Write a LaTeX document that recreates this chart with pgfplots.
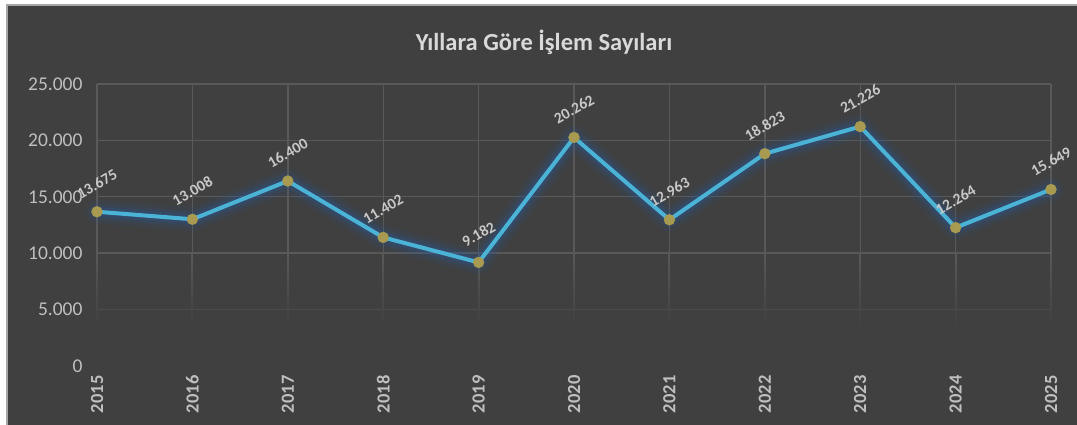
\documentclass[border=0pt]{standalone}
\usepackage{pgfplots}
\pgfplotsset{compat=1.18}
\usepackage{pgfplotstable}
\usepackage{fontspec}
\setmainfont{Carlito}
\definecolor{bgc}{HTML}{404040}
\definecolor{gridc}{HTML}{595959}
\definecolor{linec}{HTML}{4BB4D6}
\definecolor{markc}{HTML}{A89A50}
\definecolor{glowc}{HTML}{1F5AA8}
\definecolor{tickc}{HTML}{BFBFBF}
\definecolor{labc}{HTML}{C8C8C8}
\definecolor{titc}{HTML}{D9D9D9}
\definecolor{bordc}{HTML}{A6A6A6}

\pgfplotstableread{
x y
0 13675
1 13008
2 16400
3 11402
4 9182
5 20262
6 12963
7 18823
8 21226
9 12264
10 15649
}\datatab

\begin{document}
\begin{tikzpicture}
\useasboundingbox (0,0) rectangle (1077pt,425pt);
\fill[white] (0,0) rectangle (1077pt,425pt);
\fill[bgc] (7pt,0) rectangle (1077pt,420pt);
\draw[bordc, line width=1.2pt] (7pt,0) -- (7pt,420pt) -- (1077pt,420pt);
\node[font=\fontsize{24.5}{27}\selectfont\bfseries, text=titc] at (544pt,383pt) {Yıllara Göre İşlem Sayıları};
\begin{axis}[
  at={(97pt,59pt)}, anchor=south west,
  scale only axis, width=954pt, height=282pt,
  xmin=0, xmax=10, ymin=0, ymax=25000,
  axis line style={draw=none},
  major tick length=0pt,
  xtick={0,...,10},
  xticklabels={2015,2016,2017,2018,2019,2020,2021,2022,2023,2024,2025},
  ytick={0,5000,10000,15000,20000,25000},
  scaled y ticks=false,
  /pgf/number format/assume math mode=true,
  /pgf/number format/1000 sep={.},
  yticklabel style={text=tickc, font=\fontsize{19.5}{21}\selectfont, anchor=east, xshift=-11pt},
  xticklabel style={text=tickc, font=\fontsize{18.5}{20}\selectfont\bfseries, rotate=90, anchor=east, xshift=-6pt},
  clip=false,
]
% grid lines (fading towards the bottom as in the reference)
\pgfplotsinvokeforeach{10000,15000,20000,25000}{
  \draw[gridc, line width=1.4pt] (axis cs:0,#1) -- (axis cs:10,#1);
}
\draw[gridc!50!bgc, line width=1.4pt] (axis cs:0,5000) -- (axis cs:10,5000);
\pgfplotsinvokeforeach{0,...,10}{
  \draw[gridc, line width=1.4pt] (axis cs:#1,10000) -- (axis cs:#1,25000);
  \shade[top color=gridc, bottom color=bgc] ([xshift=-0.7pt]axis cs:#1,3500) rectangle ([xshift=0.7pt]axis cs:#1,10000);
}
\addplot[glowc, line width=24pt, opacity=0.08, line join=round, line cap=round] table[x=x,y=y] {\datatab};
\addplot[glowc, line width=16pt, opacity=0.13, line join=round, line cap=round] table[x=x,y=y] {\datatab};
\addplot[glowc, line width=10pt, opacity=0.22, line join=round, line cap=round] table[x=x,y=y] {\datatab};
\addplot[linec, line width=4pt, line join=round, mark=*, mark size=5.5pt,
  mark options={solid, fill=markc, draw=markc, line width=0.3pt},
  nodes near coords={\pgfmathprintnumber[1000 sep={.},assume math mode=true]{\pgfplotspointmeta}},
  nodes near coords style={text=labc, font=\fontsize{15.5}{17}\selectfont\bfseries, anchor=center, yshift=28pt, rotate=30},
  point meta=y] table[x=x,y=y] {\datatab};
\end{axis}
\end{tikzpicture}
\end{document}
